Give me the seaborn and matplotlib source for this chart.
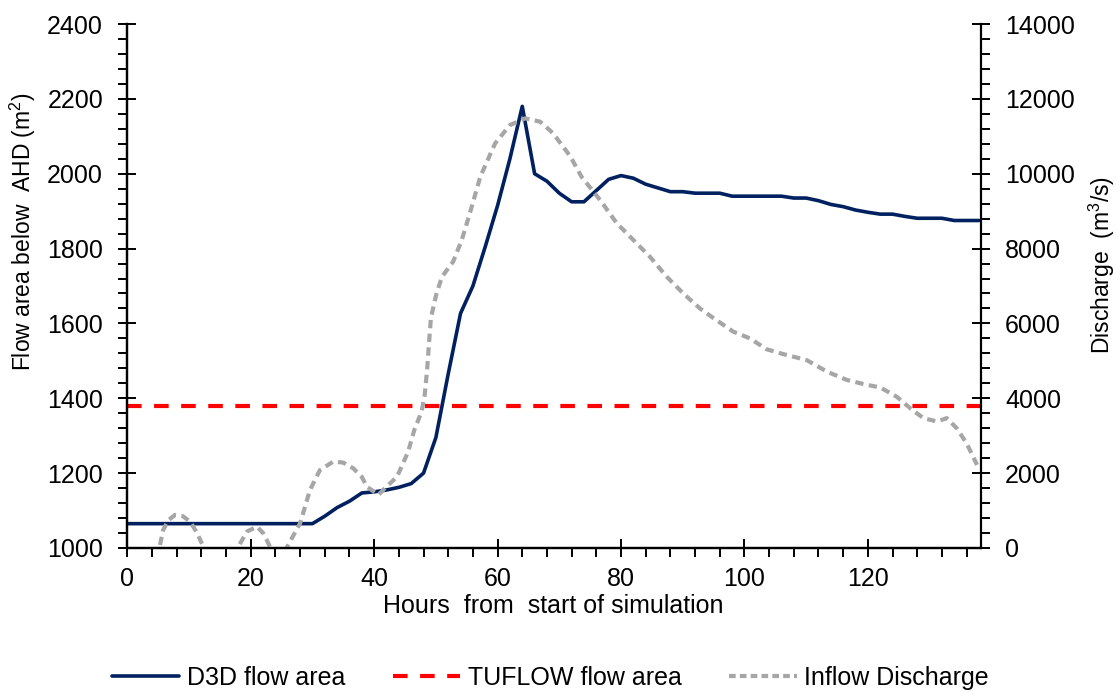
import numpy as np
import pandas as pd
import matplotlib
matplotlib.use("Agg")
import matplotlib.pyplot as plt
from matplotlib.ticker import MultipleLocator
from matplotlib.lines import Line2D
import seaborn as sns

# ---- data ----
hours_d3d = [0, 30, 32, 34, 36, 38, 40, 42, 44, 46, 48, 50, 52, 54, 56, 58, 60, 62, 64,
             66, 68, 70, 72, 74, 76, 78, 80, 82, 84, 86, 88, 90, 92, 94, 96, 98, 100,
             102, 104, 106, 108, 110, 112, 114, 116, 118, 120, 122, 124, 126, 128, 130,
             132, 134, 136, 138]
area_d3d = [1065, 1065, 1085, 1108, 1125, 1147, 1150, 1155, 1162, 1172, 1200, 1295, 1465,
            1627, 1700, 1805, 1915, 2040, 2180, 2000, 1980, 1948, 1925, 1925, 1955, 1985,
            1995, 1988, 1972, 1962, 1952, 1952, 1948, 1948, 1948, 1940, 1940, 1940, 1940,
            1940, 1935, 1935, 1928, 1918, 1912, 1903, 1897, 1892, 1892, 1886, 1881, 1881,
            1881, 1875, 1875, 1875]

hours_tuflow = [0, 138.3]
area_tuflow = [1380, 1380]

hours_inflow = [0, 1.5, 3.5, 5.2, 5.8, 6.7, 7.7, 9, 10.2, 11.3, 12.3, 13.5, 15, 16.8, 18,
                19.4, 21, 22, 22.6, 23.2, 24.5, 25.8, 28, 29.6, 31.2, 33.4, 35, 36.6, 38,
                38.8, 40.7, 42, 43.7, 45.5, 46.5, 47.7, 48.2, 48.6, 48.9, 49.2, 50.1, 51,
                52.8, 54.2, 55.5, 57.2, 59.6, 62, 64.5, 66.9, 69, 71.8, 73.6, 76.6, 79.3,
                82, 84.7, 87.4, 90.1, 92.8, 95, 98.2, 100.9, 103.6, 106.3, 110.1, 113.4,
                116.6, 119.8, 122, 124.7, 126.9, 129, 131.2, 132.8, 134.4, 136, 137.7]
discharge_inflow = [0, -400, -500, 0, 480, 750, 880, 850, 700, 400, 40, -300, -500, -300, 40,
                    440, 570, 400, 210, 0, -200, 0, 660, 1550, 2080, 2310, 2280, 2130, 1900,
                    1640, 1420, 1640, 1900, 2570, 3150, 3650, 4100, 4800, 5500, 6150, 6800,
                    7250, 7650, 8230, 8940, 9920, 10810, 11300, 11480, 11390, 11080, 10460,
                    9920, 9300, 8680, 8230, 7780, 7250, 6800, 6400, 6140, 5780, 5600, 5310,
                    5180, 5020, 4710, 4490, 4360, 4290, 4040, 3730, 3470, 3380, 3470, 3200,
                    2800, 2220]

x_ticks = [0, 20, 40, 60, 80, 100, 120]
left_ticks = [1000, 1200, 1400, 1600, 1800, 2000, 2200, 2400]
right_ticks = [0, 2000, 4000, 6000, 8000, 10000, 12000, 14000]

# ---- style ----
sns.set_style("white")
plt.rcParams['font.family'] = ['Liberation Sans', 'DejaVu Sans']
plt.rcParams['mathtext.fontset'] = 'custom'
plt.rcParams['mathtext.rm'] = 'Liberation Sans'
plt.rcParams['mathtext.it'] = 'Liberation Sans:italic'
plt.rcParams['mathtext.default'] = 'regular'
plt.rcParams['text.color'] = 'black'
plt.rcParams['axes.labelcolor'] = 'black'
plt.rcParams['xtick.color'] = 'black'
plt.rcParams['ytick.color'] = 'black'
FS = 18
FSY = 16.5

fig = plt.figure(figsize=(11.16, 6.94), dpi=100)
ax = fig.add_axes([0.1141, 0.2104, 0.7647, 0.7550])
ax2 = ax.twinx()

navy = "#002060"
red = "#FF0000"
grey = "#A6A6A6"

sns.lineplot(x=hours_d3d, y=area_d3d, ax=ax, color=navy, linewidth=2.6,
             sort=False, estimator=None)
sns.lineplot(x=hours_tuflow, y=area_tuflow, ax=ax, color=red, linewidth=3.0,
             linestyle=(0, (3.5, 3.0)), sort=False, estimator=None)
sns.lineplot(x=hours_inflow, y=discharge_inflow, ax=ax2, color=grey, linewidth=3.0,
             linestyle=(0, (2.0, 1.3)), sort=False, estimator=None)

ax.set_xlim(0, 138.3)
ax.set_ylim(1000, 2400)
ax2.set_ylim(0, 14000)

ax.set_xticks(x_ticks)
ax.set_yticks(left_ticks)
ax2.set_yticks(right_ticks)
ax.xaxis.set_minor_locator(MultipleLocator(4))
ax.yaxis.set_minor_locator(MultipleLocator(40))
ax2.yaxis.set_minor_locator(MultipleLocator(400))

for a in (ax, ax2):
    a.tick_params(which='major', direction='inout', length=13, width=1.4,
                  labelsize=FS, color='black', labelcolor='black')
    a.tick_params(which='minor', direction='out', length=6.5, width=1.4, color='black')
    for s in a.spines.values():
        s.set_linewidth(1.6)
        s.set_color('black')
    a.spines['top'].set_visible(False)

ax.tick_params(axis='x', which='both', bottom=True, pad=7)
ax.tick_params(axis='y', which='both', left=True, pad=11)
ax2.tick_params(axis='y', which='both', right=True, pad=11)
ax.spines['right'].set_visible(False)

ax.set_xlabel("Hours  from  start of simulation", fontsize=FS, color='black')
ax.xaxis.set_label_coords(0.499, -0.087)

ax.set_ylabel("Flow area below  AHD (m$^2$)", fontsize=FSY, color='black')
ax.yaxis.label.set_verticalalignment('center')
ax.yaxis.set_label_coords((23 - 127.3) / 853.4, 0.603)

ax2.set_ylabel("Discharge  (m$^3$/s)", fontsize=FSY, color='black')
ax2.yaxis.label.set_verticalalignment('center')
ax2.yaxis.set_label_coords((1102 - 127.3) / 853.4, 0.54)

handles = [
    Line2D([], [], color=navy, linewidth=2.6),
    Line2D([], [], color=red, linewidth=3.0, linestyle=(0, (3.5, 3.0))),
    Line2D([], [], color=grey, linewidth=3.0, linestyle=(0, (1.6, 1.0))),
]
labels = ["D3D flow area", "TUFLOW flow area", "Inflow Discharge"]
fig.legend(handles, labels, loc='center', bbox_to_anchor=(0.493, 1 - 678 / 694),
           ncol=3, frameon=False, fontsize=FS, handlelength=2.7, handletextpad=0.3,
           columnspacing=1.9, labelcolor='black')

fig.savefig("out.png", dpi=100)
